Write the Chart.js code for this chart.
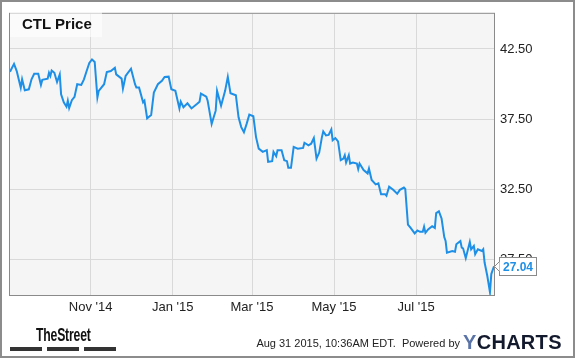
<!DOCTYPE html>
<html>
<head>
<meta charset="utf-8">
<script src="https://cdn.jsdelivr.net/npm/chart.js@4/dist/chart.umd.min.js"></script>
<style>
  body { margin: 0; background: #fff; }
  #wrap { position: relative; width: 575px; height: 358px; font-family: "Liberation Sans", Arial, sans-serif; overflow: hidden; }
  #chart { position: absolute; left: 0; top: 0; }
  #frame { position: absolute; left: 0; top: 0; width: 575px; height: 358px; box-sizing: border-box; border: 2px solid #8c8c8c; }
  #title { position: absolute; left: 10px; top: 10px; width: 92px; height: 27px; line-height: 27px; padding-left: 12px; box-sizing: border-box;
           background: rgba(255,255,255,0.6); font-weight: bold; font-size: 15px; color: #111; }
  #street { position: absolute; left: 36px; top: 325px; line-height: 20px; font-family: "Liberation Sans Narrow", "Liberation Sans", sans-serif;
            font-weight: bold; font-size: 18px; color: #111; transform: scaleX(0.68); transform-origin: left center; letter-spacing: -0.3px; }
  .bar { position: absolute; top: 347px; width: 32px; height: 4px; background: #333; }
  #stamp { position: absolute; right: 115px; top: 336px; line-height: 14px; font-size: 11px; color: #222; white-space: nowrap; }
  #ycharts { position: absolute; left: 463px; top: 331px; line-height: 22px; font-size: 20px; font-weight: bold; color: #141a2e; letter-spacing: 0.3px; }
  #ycharts span { color: #5a74a8; }
</style>
</head>
<body>
<div id="wrap">
  <canvas id="chart" width="575" height="358"></canvas>
  <div id="title">CTL Price</div>
  <div id="street">TheStreet</div>
  <div class="bar" style="left:10px"></div>
  <div class="bar" style="left:47px"></div>
  <div class="bar" style="left:84px"></div>
  <div id="stamp">Aug 31 2015, 10:36AM EDT.&nbsp; Powered by</div>
  <div id="ycharts"><span>Y</span>CHARTS</div>
  <div id="frame"></div>
</div>
<script>
const dates = [
  '2014-09-02','2014-09-05','2014-09-07','2014-09-10','2014-09-11','2014-09-13','2014-09-16','2014-09-18','2014-09-20','2014-09-23','2014-09-24','2014-09-25','2014-09-26','2014-09-30',
  '2014-10-01','2014-10-02','2014-10-03','2014-10-05','2014-10-07','2014-10-09','2014-10-10','2014-10-12','2014-10-14','2014-10-15','2014-10-16','2014-10-18','2014-10-20','2014-10-22','2014-10-25','2014-10-27','2014-10-29','2014-10-31',
  '2014-11-02','2014-11-04','2014-11-06','2014-11-07','2014-11-11','2014-11-13','2014-11-16','2014-11-19','2014-11-20','2014-11-24','2014-11-25','2014-11-27',
  '2014-12-01','2014-12-04','2014-12-05','2014-12-07','2014-12-10','2014-12-11','2014-12-13','2014-12-16','2014-12-18','2014-12-21','2014-12-24','2014-12-26','2014-12-29','2014-12-31',
  '2015-01-03','2015-01-06','2015-01-07','2015-01-09','2015-01-12','2015-01-15','2015-01-19','2015-01-21','2015-01-22','2015-01-26','2015-01-27','2015-01-30',
  '2015-02-02','2015-02-03','2015-02-06','2015-02-09','2015-02-11','2015-02-13','2015-02-17','2015-02-19','2015-02-21','2015-02-23','2015-02-25','2015-02-27',
  '2015-03-02','2015-03-04','2015-03-06','2015-03-09','2015-03-12','2015-03-13','2015-03-16','2015-03-17','2015-03-19','2015-03-20','2015-03-23','2015-03-25','2015-03-27','2015-03-28','2015-03-30',
  '2015-04-01','2015-04-04','2015-04-08','2015-04-09','2015-04-12','2015-04-14','2015-04-16','2015-04-18','2015-04-20','2015-04-22','2015-04-23','2015-04-25','2015-04-27','2015-04-29','2015-04-30',
  '2015-05-02','2015-05-04','2015-05-06','2015-05-08','2015-05-09','2015-05-10','2015-05-12','2015-05-13','2015-05-15','2015-05-18','2015-05-19','2015-05-20','2015-05-23','2015-05-26','2015-05-27','2015-05-29',
  '2015-06-01','2015-06-03','2015-06-05','2015-06-08','2015-06-09','2015-06-11','2015-06-14','2015-06-17','2015-06-19','2015-06-22','2015-06-23','2015-06-25','2015-06-27','2015-06-30',
  '2015-07-02','2015-07-04','2015-07-06','2015-07-07','2015-07-08','2015-07-10','2015-07-13','2015-07-15','2015-07-16','2015-07-18','2015-07-20','2015-07-22','2015-07-23','2015-07-24','2015-07-28','2015-07-30','2015-07-31',
  '2015-08-03','2015-08-04','2015-08-05','2015-08-07','2015-08-10','2015-08-11','2015-08-13','2015-08-14','2015-08-16','2015-08-19','2015-08-20','2015-08-21','2015-08-23','2015-08-25','2015-08-26','2015-08-28'
];
const prices = [
  40.88,41.44,40.93,39.75,40.34,39.56,39.63,40.34,40.74,40.74,40.34,39.94,40.30,40.39,
  40.81,40.58,40.97,40.81,40.15,40.69,39.28,38.70,38.39,38.82,38.30,38.86,39.10,39.99,39.94,40.34,40.93,41.51,
  41.75,41.58,39.05,39.52,39.99,40.86,40.93,41.16,40.69,40.39,39.68,40.58,
  41.09,39.99,39.75,39.75,38.70,38.82,37.57,37.80,39.40,39.99,40.23,40.51,40.53,39.63,
  39.52,38.27,38.75,38.35,38.63,38.27,38.58,38.75,39.33,39.10,38.82,37.17,
  38.11,39.52,38.46,39.52,40.51,39.35,39.21,37.64,36.94,36.58,37.17,37.83,
  37.71,36.23,35.41,35.18,35.30,34.47,34.52,35.18,34.87,35.30,35.30,34.59,34.52,34.05,34.05,
  35.53,35.41,35.46,35.83,35.65,35.76,36.16,34.70,35.13,36.23,36.63,36.35,36.39,36.77,36.00,
  36.16,35.93,34.59,34.70,34.94,34.42,34.94,34.35,34.42,34.35,33.96,34.35,33.89,33.65,34.00,33.18,
  32.87,32.94,32.17,32.17,32.06,32.71,32.48,32.20,32.48,32.64,32.55,30.01,29.77,29.38,
  29.59,29.49,29.49,29.85,29.42,29.66,29.89,29.77,30.83,30.95,30.44,29.12,28.84,28.01,28.13,28.08,28.61,
  28.84,28.37,28.32,27.62,28.77,28.25,28.49,27.90,28.25,28.13,28.25,27.31,26.37,25.20,26.49,27.04
];
const xTickDates = ['2014-11-01','2015-01-01','2015-03-01','2015-05-01','2015-07-01'];
const xTickLabels = ["Nov '14", "Jan '15", "Mar '15", "May '15", "Jul '15"];
const yTickValues = [27.5, 32.5, 37.5, 42.5];

const dayOf = (d) => Date.parse(d) / 864e5;
const points = dates.map((d, i) => ({ x: dayOf(d), y: prices[i] }));

const tickFont = { family: '"Liberation Sans", Arial, sans-serif', size: 13 };

const plotBox = {
  id: 'plotBox',
  beforeDraw(chart) {
    const a = chart.chartArea, ctx = chart.ctx;
    ctx.save();
    ctx.fillStyle = '#f5f5f5';
    ctx.fillRect(a.left, a.top, a.right - a.left, a.bottom - a.top);
    ctx.restore();
  },
  afterDatasetsDraw(chart) {
    const a = chart.chartArea, ctx = chart.ctx;
    ctx.save();
    ctx.strokeStyle = '#8a8a8a';
    ctx.lineWidth = 1;
    ctx.strokeRect(a.left - 0.5, a.top - 0.5, a.right - a.left + 1, a.bottom - a.top + 1);
    ctx.restore();
  },
  afterDraw(chart) {
    // last value flag
    const ctx = chart.ctx, a = chart.chartArea;
    const last = prices[prices.length - 1];
    const y = Math.round(chart.scales.y.getPixelForValue(last)) + 0.5;
    const x = a.right + 0.5;
    const bx = x + 5, bw = 37, bh = 18;
    ctx.save();
    ctx.fillStyle = '#fff';
    ctx.strokeStyle = '#8a8a8a';
    ctx.lineWidth = 1;
    ctx.fillRect(bx, y - bh / 2, bw, bh);
    ctx.strokeRect(bx, y - bh / 2, bw, bh);
    ctx.beginPath();
    ctx.moveTo(bx, y - 5);
    ctx.lineTo(x, y);
    ctx.lineTo(bx, y + 5);
    ctx.fill();
    ctx.stroke();
    ctx.fillStyle = '#1e8fe6';
    ctx.font = 'bold 12px "Liberation Sans", Arial, sans-serif';
    ctx.textAlign = 'center';
    ctx.textBaseline = 'middle';
    ctx.fillText(last.toFixed(2), bx + bw / 2, y + 1);
    ctx.restore();
  }
};

new Chart(document.getElementById('chart'), {
  type: 'line',
  data: {
    datasets: [{
      data: points,
      borderColor: '#1e8fe6',
      borderWidth: 2,
      pointRadius: 0,
      tension: 0,
      fill: false
    }]
  },
  options: {
    responsive: false,
    animation: false,
    layout: { padding: { left: 10, top: 10, right: 0, bottom: 0 } },
    plugins: { legend: { display: false }, tooltip: { enabled: false } },
    scales: {
      x: {
        type: 'linear',
        min: dayOf(dates[0]),
        max: dayOf(dates[dates.length - 1]),
        afterBuildTicks: (axis) => { axis.ticks = xTickDates.map(d => ({ value: dayOf(d) })); },
        afterFit: (axis) => { axis.height = 63; },
        grid: { color: '#d9d9d9', drawTicks: false },
        border: { display: false },
        ticks: {
          autoSkip: false, maxRotation: 0, padding: 5, color: '#222', font: tickFont,
          callback: (v, i) => xTickLabels[i]
        }
      },
      y: {
        position: 'right',
        min: 25,
        max: 45,
        afterBuildTicks: (axis) => { axis.ticks = yTickValues.map(v => ({ value: v })); },
        afterFit: (axis) => { axis.width = 81; },
        grid: { color: '#d9d9d9', drawTicks: false },
        border: { display: false },
        ticks: { padding: 6, color: '#222', font: tickFont, callback: (v) => v.toFixed(2) }
      }
    }
  },
  plugins: [plotBox]
});
</script>
</body>
</html>
